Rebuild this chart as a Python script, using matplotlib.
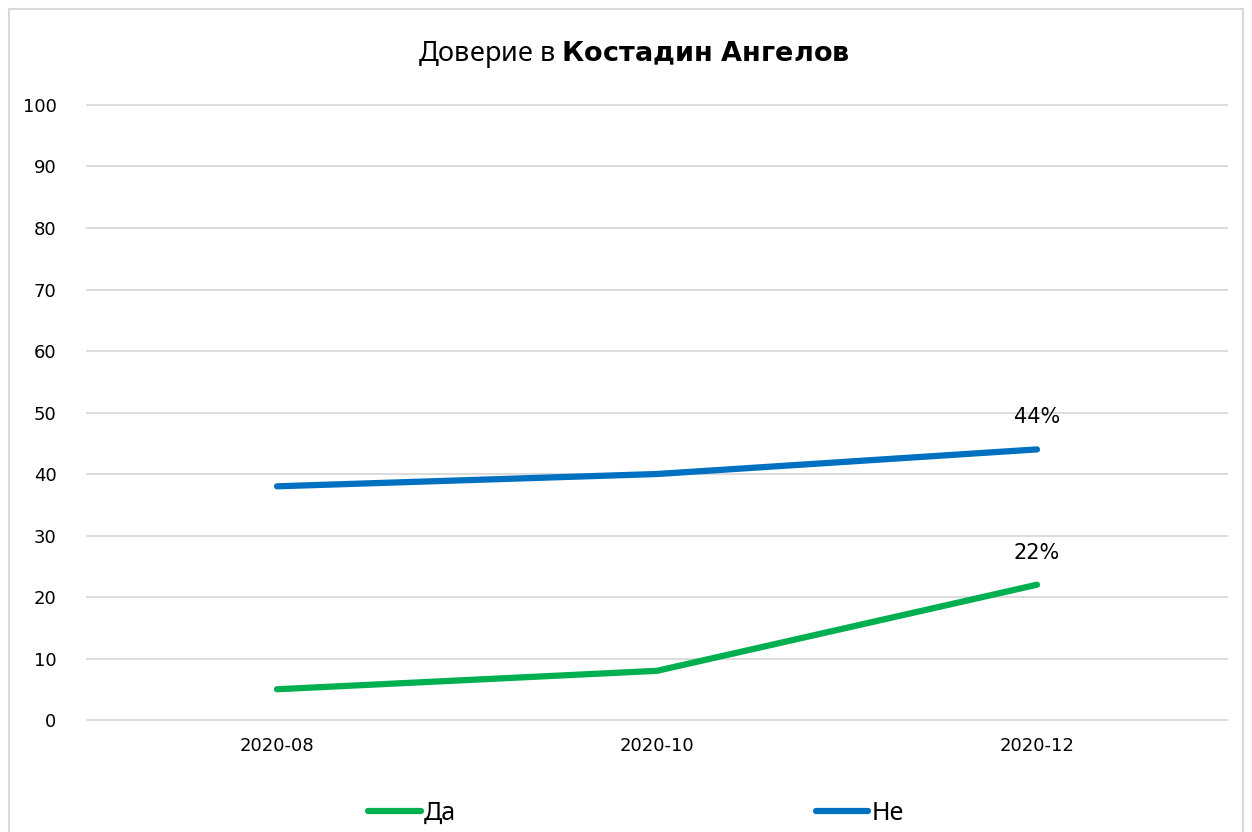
import matplotlib.pyplot as plt
from matplotlib.patches import Rectangle

months = ['2020-08', '2020-10', '2020-12']
da = [5, 8, 22]
ne = [38, 40, 44]
last_labels = ['22%', '44%']

green = '#00B050'
blue = '#0070C0'

fig = plt.figure(figsize=(12.52, 8.32), dpi=100)
ax = fig.add_axes([0.0695, 0.1346, 0.9105, 0.7392])

x = range(len(months))
ax.plot(x, da, color=green, lw=4.5, solid_capstyle='round', label='Да')
ax.plot(x, ne, color=blue, lw=4.5, solid_capstyle='round', label='Не')

# labels only on the last point
ax.annotate(last_labels[0], (x[-1], da[-1]), xytext=(0, 23), textcoords='offset points',
            ha='center', va='center', fontsize=15, family='DejaVu Sans')
ax.annotate(last_labels[1], (x[-1], ne[-1]), xytext=(0, 23), textcoords='offset points',
            ha='center', va='center', fontsize=15, family='DejaVu Sans')

ax.set_xlim(-0.5, 2.5)
ax.set_ylim(0, 100)
ax.set_yticks(range(0, 101, 10))
ax.set_xticks(list(x))
ax.set_xticklabels(months)
ax.grid(axis='y', color='#D9D9D9', lw=1.3)
for gl in ax.get_ygridlines():
    gl.set_clip_on(False)
ax.set_axisbelow(True)
for s in ax.spines.values():
    s.set_visible(False)
ax.tick_params(length=0, labelsize=13, pad=12)
ax.tick_params(axis='y', pad=22)
for lab in ax.get_xticklabels() + ax.get_yticklabels():
    lab.set_family('DejaVu Sans')

fig.text(0.506, 0.934, 'Доверие в $\\bf{Костадин\\ Ангелов}$', ha='center', va='center',
         fontsize=19.5, family='Noto Sans')

leg = fig.legend(loc='center', bbox_to_anchor=(0.508, 0.022), ncol=2, frameon=False,
                 handlelength=2.1, handletextpad=0.12, columnspacing=14.4,
                 prop={'family': 'Noto Sans', 'size': 18})

fig.patches.append(Rectangle((9 / 1252, -0.05), 1234 / 1252, 1.05 - 9 / 832,
                             transform=fig.transFigure, fill=False,
                             edgecolor='#D9D9D9', lw=1.5))

fig.savefig('out.png', dpi=100)
